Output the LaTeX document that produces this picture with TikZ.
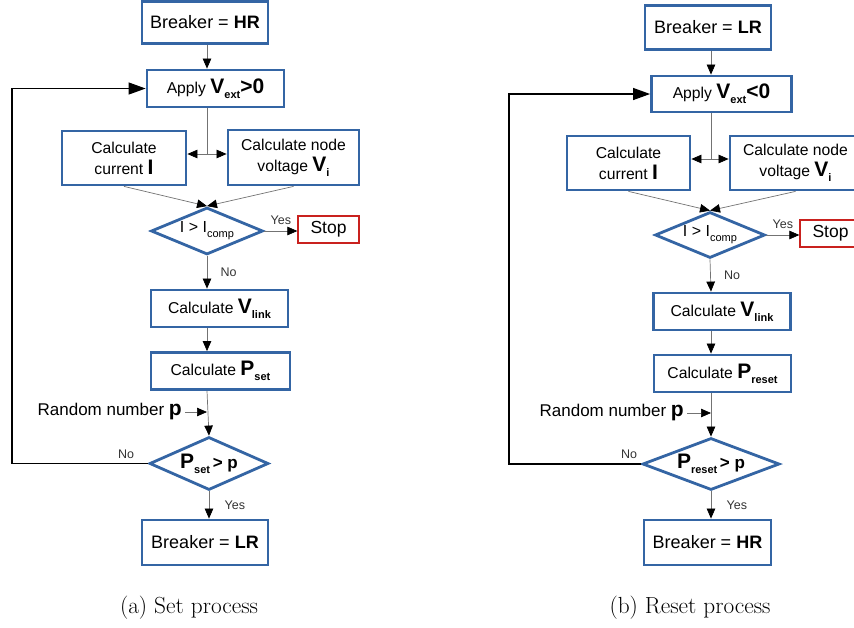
\documentclass[tikz,border=0pt]{standalone}
\usepackage{fontspec}
\usetikzlibrary{shapes.geometric, arrows.meta, positioning}
\newfontfamily\arial{Liberation Sans}
\definecolor{flowblue}{HTML}{3465A4}
\definecolor{stopred}{HTML}{C9211E}
\newcommand{\bigsym}[1]{{\fontsize{21}{21}\selectfont\bfseries #1}}
\newcommand{\lowtxt}[1]{\raisebox{-5pt}{\fontsize{11}{11}\selectfont #1}}

\tikzset{
  box/.style={draw=flowblue, line width=2.8pt, fill=white, align=center, inner sep=0pt, font=\arial\fontsize{15.7}{21}\selectfont},
  bigbox/.style={box, font=\arial\fontsize{18}{21}\selectfont},
  decision/.style={diamond, aspect=2.4, draw=flowblue, line width=2.8pt, fill=white, inner sep=0pt, font=\arial\fontsize{16}{18}\selectfont},
  stopbox/.style={draw=stopred, line width=1.3pt, fill=white, inner sep=0pt, font=\arial\fontsize{17.5}{20}\selectfont},
  plaintext/.style={inner sep=0pt, font=\arial\fontsize{17}{20}\selectfont},
  flow/.style={draw=black!55, line width=0.7pt, -{Triangle[length=10pt, width=8.5pt, color=black]}},
  loopback/.style={draw=black, line width=1.2pt, -{Triangle[length=17pt, width=12pt]}},
  flowlabel/.style={font=\arial\fontsize{12.5}{14}\selectfont, text=black!80},
  caption/.style={font=\fontsize{23.3}{28}\selectfont}
}

\begin{document}
\begin{tikzpicture}[x=1pt, y=-1pt]
  \useasboundingbox (0,0) rectangle (854,627);

  % (a) set process
  \coordinate (aaxis)  at (207,0);
  \coordinate (aloop)  at (12,0);
  \coordinate (asplit) at (207,154);
  \node[bigbox, minimum width=126pt, minimum height=42pt] (abrk)  at (205,22.5)  {Breaker = \textbf{HR}};
  \node[box, minimum width=137pt, minimum height=37pt] (aapp)  at (215.5,88.5) {Apply \bigsym{V}\lowtxt{\bfseries ext}\bigsym{>0}};
  \node[box, minimum width=124pt, minimum height=54pt] (acur)  at (124,158)   {Calculate\\current \bigsym{I}};
  \node[box, minimum width=131pt, minimum height=55pt] (avol)  at (293.5,157.5) {Calculate node\\voltage \bigsym{V}\lowtxt{\bfseries i}};
  \node[decision, minimum width=112pt, minimum height=47pt] (adia1) at (207,231) {\makebox[0pt]{I > I\lowtxt{comp}}};
  \node[stopbox, minimum width=61pt, minimum height=27pt] (astop) at (328.5,229.5) {Stop};
  \node[box, minimum width=137pt, minimum height=37pt] (avlink) at (219.5,308.5) {Calculate \bigsym{V}\lowtxt{\bfseries link}};
  \node[box, minimum width=139pt, minimum height=37pt] (apset)  at (220.5,371) {Calculate \bigsym{P}\lowtxt{\bfseries set}};
  \node[plaintext, anchor=east] (arnd) at (182,412) {Random number \bigsym{p}};
  \node[decision, minimum width=119pt, minimum height=53pt] (adia2) at (209,463.5) {\makebox[0pt]{\bigsym{P}\lowtxt{\bfseries set}\,\textbf{\fontsize{17}{17}\selectfont > p}}};
  \node[bigbox, minimum width=126pt, minimum height=45pt] (abrk2) at (205,542.5) {Breaker = \textbf{LR}};
  \node[caption] (acap) at (189,608) {(a) Set process};

  \draw[flow] (abrk.south -| aaxis) -- (aapp.north -| aaxis);
  \draw[black!55, line width=0.7pt] (aapp.south -| aaxis) -- (asplit);
  \draw[flow] (asplit) -- (acur.east |- asplit);
  \draw[flow] (asplit) -- (avol.west |- asplit);
  \draw[flow] (acur.south) -- (adia1.north);
  \draw[flow] (avol.south) -- (adia1.north);
  \draw[flow] (adia1.east) -- node[flowlabel, above=3pt] {Yes} (astop.west |- adia1.east);
  \draw[flow] (adia1.south) -- node[flowlabel, right=10pt] {No} (avlink.north -| aaxis);
  \draw[flow] (avlink.south -| aaxis) -- (apset.north -| aaxis);
  \draw[flow] (apset.south -| aaxis) -- (adia2.north);
  \draw[flow] (arnd.east) ++(3,0) -- (aaxis |- arnd.east);
  \draw[flow] (adia2.south) -- node[flowlabel, right=12pt] {Yes} (abrk2.north -| adia2.south);
  \draw[loopback] (adia2.west) node[flowlabel, above left=1pt and 10pt] {No}
    -- (aloop |- adia2.west) -- (aloop |- aapp.west) -- (aapp.west);

  % (b) reset process
  \coordinate (baxis)  at (711,0);
  \coordinate (bloop)  at (509,0);
  \coordinate (bsplit) at (711,159);
  \node[bigbox, minimum width=126pt, minimum height=44pt] (bbrk)  at (708,27.5)  {Breaker = \textbf{LR}};
  \node[box, minimum width=140pt, minimum height=36pt] (bapp)  at (721.5,94)  {Apply \bigsym{V}\lowtxt{\bfseries ext}\bigsym{<0}};
  \node[box, minimum width=123pt, minimum height=54pt] (bcur)  at (628.5,163) {Calculate\\current \bigsym{I}};
  \node[box, minimum width=131pt, minimum height=54pt] (bvol)  at (795.5,163) {Calculate node\\voltage \bigsym{V}\lowtxt{\bfseries i}};
  \node[decision, minimum width=110pt, minimum height=46pt] (bdia1) at (710,235) {\makebox[0pt]{I > I\lowtxt{comp}}};
  \node[stopbox, minimum width=61pt, minimum height=27pt] (bstop) at (830.5,233.5) {Stop};
  \node[box, minimum width=137pt, minimum height=37pt] (bvlink) at (722,311.5) {Calculate \bigsym{V}\lowtxt{\bfseries link}};
  \node[box, minimum width=137pt, minimum height=37pt] (bpset)  at (722.5,373.5) {Calculate \bigsym{P}\lowtxt{\bfseries reset}};
  \node[plaintext, anchor=east] (brnd) at (684,413) {Random number \bigsym{p}};
  \node[decision, minimum width=137pt, minimum height=52pt] (bdia2) at (711,464) {\makebox[0pt]{\bigsym{P}\lowtxt{\bfseries reset}\,\textbf{\fontsize{17}{17}\selectfont > p}}};
  \node[bigbox, minimum width=127pt, minimum height=45pt] (bbrk2) at (707.5,542.5) {Breaker = \textbf{HR}};
  \node[caption] (bcap) at (690,608) {(b) Reset process};

  \draw[flow] (bbrk.south -| baxis) -- (bapp.north -| baxis);
  \draw[black!55, line width=0.7pt] (bapp.south -| baxis) -- (bsplit);
  \draw[flow] (bsplit) -- (bcur.east |- bsplit);
  \draw[flow] (bsplit) -- (bvol.west |- bsplit);
  \draw[flow] (bcur.south) -- (bdia1.north);
  \draw[flow] (bvol.south) -- (bdia1.north);
  \draw[flow] (bdia1.east) -- node[flowlabel, above=3pt] {Yes} (bstop.west |- bdia1.east);
  \draw[flow] (bdia1.south) -- node[flowlabel, right=10pt] {No} (bvlink.north -| baxis);
  \draw[flow] (bvlink.south -| baxis) -- (bpset.north -| baxis);
  \draw[flow] (bpset.south -| baxis) -- (bdia2.north);
  \draw[flow] (brnd.east) ++(3,0) -- (baxis |- brnd.east);
  \draw[flow] (bdia2.south) -- node[flowlabel, right=12pt] {Yes} (bbrk2.north -| bdia2.south);
  \draw[loopback] (bdia2.west) node[flowlabel, above left=1pt and 0pt] {No}
    -- (bloop |- bdia2.west) -- (bloop |- bapp.west) -- (bapp.west);
\end{tikzpicture}
\end{document}
